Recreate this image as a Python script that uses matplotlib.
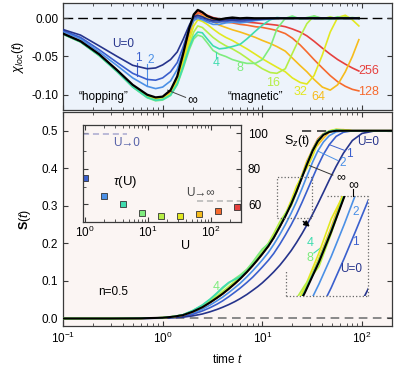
import matplotlib
matplotlib.use('Agg')
import matplotlib.pyplot as plt
from matplotlib.ticker import NullLocator, FixedLocator

plt.rcParams['font.family'] = ['Liberation Sans', 'DejaVu Sans']
plt.rcParams['mathtext.fontset'] = 'custom'
plt.rcParams['mathtext.rm'] = 'Liberation Sans'
plt.rcParams['mathtext.it'] = 'Liberation Sans:italic'
plt.rcParams['mathtext.bf'] = 'Liberation Sans:bold'
plt.rcParams['axes.unicode_minus'] = False
plt.rcParams['font.size'] = 8.5

# ---- top panel: local susceptibility chi_loc(t) ----
t_top = [0.1, 0.15, 0.23, 0.35, 0.5, 0.7, 0.85, 1.0, 1.2, 1.4, 1.6, 1.85, 2.05, 2.25,
         2.5, 2.8, 3.2, 3.7, 4.3, 5.0, 6.0, 7.0, 8.5, 10, 12, 14, 17, 20, 24, 28, 33,
         40, 48, 57, 68, 80, 93]

chi_inf = [-0.020, -0.030, -0.047, -0.068, -0.087, -0.100, -0.1035, -0.1025, -0.094, -0.076,
           -0.047, -0.013, 0.005, 0.011, 0.008, 0.003, 0.000, -0.0015, 0.000, 0.001, 0.000,
           0.0005, 0.0, 0.0, 0.0, 0.0, 0.0, 0.0, 0.0, 0.0, 0.0, 0.0, 0.0, 0.0, 0.0, 0.0, 0.0]
chi_U0 = [-0.0147, -0.022, -0.036, -0.050, -0.0615, -0.066, -0.065, -0.061, -0.054, -0.044,
          -0.028, -0.009, 0.002, 0.004, 0.002, -0.001, -0.003, -0.003, -0.002, -0.002, -0.002,
          -0.0015, -0.001, -0.0005, 0.0, 0.0, 0.0, 0.0, 0.0, 0.0, 0.0, 0.0, 0.0, 0.0, 0.0, 0.0, 0.0]
chi_U1 = [-0.016, -0.025, -0.041, -0.058, -0.072, -0.080, -0.081, -0.078, -0.070, -0.058,
          -0.038, -0.012, 0.000, 0.002, 0.000, -0.003, -0.005, -0.005, -0.004, -0.003, -0.004,
          -0.003, -0.002, -0.001, -0.0005, 0.0, 0.0, 0.0, 0.0, 0.0, 0.0, 0.0, 0.0, 0.0, 0.0, 0.0, 0.0]
chi_U2 = [-0.0175, -0.027, -0.044, -0.062, -0.078, -0.089, -0.092, -0.090, -0.082, -0.067,
          -0.044, -0.015, -0.003, 0.000, -0.002, -0.005, -0.008, -0.008, -0.006, -0.005, -0.006,
          -0.005, -0.003, -0.002, -0.001, 0.0, 0.0, 0.0, 0.0, 0.0, 0.0, 0.0, 0.0, 0.0, 0.0, 0.0, 0.0]
chi_U4 = [-0.0207, -0.031, -0.0485, -0.070, -0.0898, -0.1035, -0.1073, -0.1063, -0.1005, -0.086,
          -0.064, -0.038, -0.024, -0.018, -0.019, -0.027, -0.036, -0.040, -0.039, -0.037, -0.034,
          -0.027, -0.017, -0.009, -0.002, 0.001, 0.000, 0.001, 0.0, 0.0, 0.0, 0.0, 0.0, 0.0, 0.0, 0.0, 0.0]
chi_U8 = [-0.021, -0.031, -0.049, -0.070, -0.090, -0.104, -0.108, -0.107, -0.101, -0.087,
          -0.066, -0.041, -0.027, -0.022, -0.024, -0.032, -0.042, -0.047, -0.050, -0.054, -0.057,
          -0.059, -0.059, -0.054, -0.038, -0.014, 0.000, 0.003, -0.001, 0.001, 0.003, 0.000,
          -0.001, 0.002, 0.000, 0.001, 0.000]
chi_U16 = [-0.0205, -0.031, -0.0483, -0.0695, -0.0895, -0.103, -0.1065, -0.1055, -0.100, -0.085,
           -0.062, -0.035, -0.018, -0.010, -0.012, -0.018, -0.025, -0.031, -0.036, -0.040, -0.046,
           -0.052, -0.060, -0.066, -0.071, -0.072, -0.066, -0.046, -0.024, -0.007, 0.003, -0.001,
           0.002, -0.001, 0.002, 0.000, 0.001]
chi_U32 = [-0.0204, -0.0306, -0.048, -0.069, -0.089, -0.1025, -0.106, -0.105, -0.099, -0.083,
           -0.058, -0.029, -0.010, -0.002, -0.004, -0.008, -0.014, -0.020, -0.025, -0.029, -0.035,
           -0.040, -0.047, -0.053, -0.059, -0.064, -0.070, -0.078, -0.084, -0.086, -0.075, -0.048,
           -0.018, 0.001, 0.004, -0.002, -0.010]
chi_U64 = [-0.0203, -0.0304, -0.0476, -0.0686, -0.0886, -0.102, -0.1055, -0.1045, -0.098, -0.081,
           -0.055, -0.023, -0.003, 0.004, 0.003, 0.000, -0.004, -0.009, -0.012, -0.015, -0.018,
           -0.021, -0.025, -0.029, -0.033, -0.037, -0.043, -0.052, -0.062, -0.070, -0.080, -0.090,
           -0.094, -0.087, -0.070, -0.050, -0.028]
chi_U128 = [-0.0202, -0.0302, -0.0473, -0.0683, -0.0883, -0.1015, -0.105, -0.104, -0.097, -0.080,
            -0.052, -0.019, 0.000, 0.007, 0.005, 0.002, -0.001, -0.003, -0.005, -0.006, -0.008,
            -0.009, -0.011, -0.012, -0.014, -0.016, -0.020, -0.026, -0.035, -0.044, -0.054, -0.065,
            -0.075, -0.083, -0.089, -0.093, -0.095]
chi_U256 = [-0.0200, -0.030, -0.047, -0.068, -0.088, -0.101, -0.1045, -0.1035, -0.096, -0.078,
            -0.050, -0.016, 0.003, 0.009, 0.007, 0.004, 0.001, -0.001, -0.002, -0.003, -0.004,
            -0.005, -0.006, -0.007, -0.008, -0.009, -0.011, -0.014, -0.018, -0.023, -0.030, -0.039,
            -0.047, -0.054, -0.060, -0.065, -0.069]

# ---- bottom panel: S(t) ----
t_bot = [0.1, 0.3, 0.6, 1.0, 1.3, 1.6, 2.0, 2.5, 3.0, 3.5, 4.0, 4.6, 5.3, 6.0, 7.0, 8.0, 9.0,
         10, 11.5, 13, 15, 17, 19.5, 22, 25, 28, 32, 36, 41, 47, 55, 65, 80, 100, 130, 200]

S_inf = [0, 0, 0.0005, 0.002, 0.005, 0.009, 0.018, 0.030, 0.043, 0.055, 0.066, 0.079, 0.093,
         0.106, 0.124, 0.141, 0.157, 0.172, 0.193, 0.215, 0.245, 0.272, 0.305, 0.338, 0.376,
         0.410, 0.447, 0.472, 0.489, 0.497, 0.500, 0.500, 0.500, 0.500, 0.500, 0.500]
S_U0 = [0, 0, 0.0002, 0.0008, 0.002, 0.0035, 0.007, 0.012, 0.018, 0.024, 0.030, 0.037, 0.045,
        0.053, 0.064, 0.075, 0.085, 0.095, 0.110, 0.124, 0.142, 0.160, 0.181, 0.202, 0.226,
        0.249, 0.278, 0.305, 0.336, 0.369, 0.405, 0.440, 0.474, 0.493, 0.499, 0.500]
S_U1 = [0, 0, 0.0003, 0.0013, 0.003, 0.006, 0.011, 0.020, 0.029, 0.038, 0.047, 0.058, 0.070,
        0.081, 0.096, 0.110, 0.124, 0.137, 0.155, 0.173, 0.198, 0.222, 0.250, 0.277, 0.309,
        0.339, 0.375, 0.406, 0.437, 0.463, 0.485, 0.496, 0.500, 0.500, 0.500, 0.500]
S_U2 = [0, 0, 0.0004, 0.0016, 0.004, 0.007, 0.014, 0.025, 0.036, 0.047, 0.057, 0.069, 0.082,
        0.094, 0.111, 0.127, 0.142, 0.156, 0.176, 0.197, 0.224, 0.250, 0.281, 0.311, 0.346,
        0.379, 0.417, 0.446, 0.470, 0.487, 0.497, 0.500, 0.500, 0.500, 0.500, 0.500]
S_U4 = [0, 0, 0.0005, 0.0022, 0.0055, 0.010, 0.021, 0.036, 0.052, 0.068, 0.083, 0.096, 0.104,
        0.111, 0.125, 0.142, 0.158, 0.173, 0.194, 0.216, 0.246, 0.273, 0.306, 0.339, 0.377,
        0.411, 0.448, 0.473, 0.490, 0.498, 0.501, 0.500, 0.500, 0.500, 0.500, 0.500]
S_U8 = [0, 0, 0.0005, 0.0022, 0.0055, 0.010, 0.021, 0.035, 0.051, 0.066, 0.080, 0.094, 0.106,
        0.116, 0.131, 0.150, 0.169, 0.185, 0.199, 0.214, 0.247, 0.274, 0.307, 0.340, 0.378,
        0.412, 0.449, 0.474, 0.491, 0.499, 0.502, 0.500, 0.500, 0.500, 0.500, 0.500]
S_U16 = [0, 0, 0.0005, 0.0021, 0.0053, 0.0095, 0.020, 0.033, 0.047, 0.060, 0.072, 0.085, 0.099,
         0.112, 0.130, 0.147, 0.163, 0.179, 0.201, 0.226, 0.258, 0.280, 0.300, 0.336, 0.378,
         0.413, 0.450, 0.475, 0.491, 0.499, 0.503, 0.501, 0.500, 0.500, 0.500, 0.500]
S_U32 = [0, 0, 0.0005, 0.0021, 0.0052, 0.0093, 0.019, 0.031, 0.045, 0.057, 0.068, 0.081, 0.095,
         0.108, 0.126, 0.143, 0.159, 0.175, 0.196, 0.219, 0.249, 0.278, 0.315, 0.352, 0.380,
         0.400, 0.433, 0.468, 0.490, 0.500, 0.504, 0.502, 0.500, 0.500, 0.500, 0.500]
S_U64 = [0, 0, 0.0005, 0.002, 0.005, 0.009, 0.018, 0.030, 0.044, 0.056, 0.067, 0.080, 0.094,
         0.107, 0.125, 0.142, 0.158, 0.173, 0.194, 0.217, 0.247, 0.275, 0.309, 0.343, 0.383,
         0.420, 0.449, 0.462, 0.480, 0.496, 0.503, 0.503, 0.500, 0.500, 0.500, 0.500]
S_U128 = [0, 0, 0.0005, 0.002, 0.005, 0.009, 0.018, 0.030, 0.043, 0.055, 0.066, 0.079, 0.093,
          0.106, 0.124, 0.141, 0.157, 0.172, 0.193, 0.216, 0.246, 0.274, 0.307, 0.341, 0.379,
          0.414, 0.452, 0.478, 0.492, 0.498, 0.502, 0.501, 0.500, 0.500, 0.500, 0.500]
S_U256 = [0, 0, 0.0005, 0.002, 0.005, 0.009, 0.018, 0.030, 0.043, 0.055, 0.066, 0.079, 0.093,
          0.106, 0.124, 0.141, 0.157, 0.172, 0.193, 0.215, 0.245, 0.273, 0.306, 0.339, 0.377,
          0.412, 0.449, 0.475, 0.491, 0.499, 0.501, 0.500, 0.500, 0.500, 0.500, 0.500]

# ---- inset: relaxation time tau(U) ----
U_tau = [1, 2, 4, 8, 16, 32, 64, 128, 256]
tau = [74.8, 64.9, 60.1, 55.1, 53.6, 53.8, 54.6, 56.4, 58.8]
tau_U0 = 99.4
tau_Uinf = 62.1

colors = {'0': '#26348c', '1': '#3a5fcd', '2': '#4b90e6', '4': '#3fdcaf',
          '8': '#7eec7e', '16': '#b6ee46', '32': '#e2e820', '64': '#f6bc1c',
          '128': '#f66a2e', '256': '#e6403e'}
tau_colors = [colors[k] for k in ['1', '2', '4', '8', '16', '32', '64', '128', '256']]

chi_col = {'4': chi_U4, '8': chi_U8, '16': chi_U16, '32': chi_U32,
           '64': chi_U64, '128': chi_U128, '256': chi_U256}
chi_blue = {'2': chi_U2, '1': chi_U1, '0': chi_U0}
S_col = {'4': S_U4, '8': S_U8, '16': S_U16, '32': S_U32,
         '64': S_U64, '128': S_U128, '256': S_U256}
S_blue = {'2': S_U2, '1': S_U1, '0': S_U0}

bg_top = '#edf3fb'
bg_bot = '#fbf5f3'
spine_c = '#3a3a3a'

W, H = 395, 366
fig = plt.figure(figsize=(W / 100, H / 100), dpi=100)


def rect(x0, y0, x1, y1):
    return [x0 / W, 1 - y1 / H, (x1 - x0) / W, (y1 - y0) / H]


def style(ax):
    for s in ax.spines.values():
        s.set_color(spine_c)
        s.set_linewidth(0.9)
    ax.tick_params(which='both', direction='in', top=True, right=True, color=spine_c)
    ax.tick_params(which='major', length=3.5, width=0.8)
    ax.tick_params(which='minor', length=2, width=0.6)


# ---------------- top panel ----------------
ax1 = fig.add_axes(rect(63, 3, 392, 110), facecolor=bg_top)
ax1.set_xscale('log')
ax1.axhline(0, color='k', lw=1.0, ls=(0, (7, 3.6)), zorder=1)
for k in ['256', '128', '64', '32', '16', '8', '4']:
    ax1.plot(t_top, chi_col[k], color=colors[k], lw=1.2, zorder=2)
for k in ['2', '1', '0']:
    ax1.plot(t_top, chi_blue[k], color=colors[k], lw=1.2, zorder=3)
ax1.plot(t_top, chi_inf, color='k', lw=1.6, zorder=4)
ax1.set_xlim(0.1, 200)
ax1.set_ylim(-0.12, 0.02)
ax1.set_yticks([0.0, -0.05, -0.10])
ax1.set_yticklabels(['0.00', '-0.05', '-0.10'])
style(ax1)
ax1.tick_params(labelbottom=False)
ax1.set_ylabel(r'$\chi_{loc}(t)$', fontsize=9, labelpad=4)

ax1.text(0.40, -0.0334, 'U=0', color=colors['0'], ha='center', va='center', fontsize=8.5)
ax1.text(0.575, -0.052, '1', color=colors['1'], ha='center', va='center', fontsize=8.5)
ax1.plot([0.55, 0.55], [-0.058, -0.076], color=colors['1'], lw=0.8)
ax1.text(0.75, -0.054, '2', color=colors['2'], ha='center', va='center', fontsize=8.5)
ax1.plot([0.69, 0.69], [-0.060, -0.089], color=colors['2'], lw=0.8)
ax1.text(1.98, -0.1065, '\u221e', color='k', ha='center', va='center', fontsize=10)
ax1.plot([1.12, 1.70], [-0.094, -0.1035], color='#444444', lw=0.7)
ax1.text(3.42, -0.059, '4', color=colors['4'], ha='center', va='center', fontsize=9)
ax1.plot([3.42, 3.42], [-0.044, -0.052], color=colors['4'], lw=0.8)
ax1.text(5.9, -0.0654, '8', color=colors['8'], ha='center', va='center', fontsize=9)
ax1.text(12.9, -0.085, '16', color=colors['16'], ha='center', va='center', fontsize=9)
ax1.text(24.3, -0.097, '32', color=colors['32'], ha='center', va='center', fontsize=9)
ax1.text(36.3, -0.1035, '64', color=colors['64'], ha='center', va='center', fontsize=9)
ax1.text(117, -0.097, '128', color=colors['128'], ha='center', va='center', fontsize=9)
ax1.text(117, -0.0695, '256', color=colors['256'], ha='center', va='center', fontsize=9)
ax1.text(0.257, -0.1036, '\u201chopping\u201d', ha='center', va='center', fontsize=8.5)
ax1.text(8.5, -0.1036, '\u201cmagnetic\u201d', ha='center', va='center', fontsize=8.5)

# ---------------- bottom panel ----------------
ax2 = fig.add_axes(rect(63, 112, 392, 326), facecolor=bg_bot)
ax2.set_xscale('log')
ax2.axhline(0, color='#808080', lw=1.3, ls=(0, (4.8, 3)), zorder=1)
ax2.plot([25, 200], [0.5, 0.5], color='#333333', lw=1.2, ls=(0, (5.5, 3.5)), zorder=1)


def draw_S(ax, lw_scale=1.0):
    for k in ['2', '1', '0']:
        ax.plot(t_bot, S_blue[k], color=colors[k], lw=1.2 * lw_scale, zorder=2)
    for k in ['256', '128', '64', '32', '16', '8', '4']:
        ax.plot(t_bot, S_col[k], color=colors[k], lw=1.2 * lw_scale, zorder=3)
    ax.plot(t_bot, S_inf, color='k', lw=1.5 * lw_scale, zorder=4)


draw_S(ax2)
ax2.set_xlim(0.1, 200)
ax2.set_ylim(-0.02, 0.55)
ax2.set_yticks([0.0, 0.1, 0.2, 0.3, 0.4, 0.5])
ax2.yaxis.set_minor_locator(NullLocator())
style(ax2)
ax2.set_xlabel('time $t$', fontsize=8.5, labelpad=5)
ax2.set_ylabel(r'$\mathbf{S}(t)$', fontsize=9, labelpad=6)

ax2.text(0.32, 0.0716, 'n=0.5', ha='center', va='center', fontsize=8.5)
ax2.text(3.44, 0.085, '4', color=colors['8'], ha='center', va='center', fontsize=9)
ax2.text(22.4, 0.472, 'S$_{z}$(t)', ha='center', va='center', fontsize=9)
ax2.text(116, 0.4695, 'U=0', color=colors['0'], ha='center', va='center', fontsize=8.5)
ax2.text(74, 0.437, '1', color=colors['1'], ha='center', va='center', fontsize=8.5)
ax2.plot([47, 68], [0.463, 0.447], color=colors['1'], lw=0.7)
ax2.text(64, 0.413, '2', color=colors['2'], ha='center', va='center', fontsize=8.5)
ax2.plot([36, 57], [0.446, 0.421], color=colors['2'], lw=0.7)
ax2.text(61, 0.376, '\u221e', color='k', ha='center', va='center', fontsize=9)
ax2.plot([28, 51], [0.410, 0.382], color='#333333', lw=0.7)

# dotted box marking the magnified region + arrow
bx0, bx1, by0, by1 = 14.1, 31.6, 0.268, 0.377
ax2.plot([bx0, bx1, bx1, bx0, bx0], [by0, by0, by1, by1, by0], ls=':', color='#666666',
         lw=0.9, zorder=5)
ax2.annotate('', xy=(31.5, 0.240), xytext=(24.5, 0.263),
             arrowprops=dict(arrowstyle='-|>', color='k', lw=1.1, mutation_scale=8), zorder=6)

# ---------------- magnified inset ----------------
axz = fig.add_axes(rect(286, 196, 368, 296), facecolor='none')
axz.set_xscale('log')
draw_S(axz)
for s in axz.spines.values():
    s.set_visible(False)
axz.xaxis.set_major_locator(NullLocator())
axz.xaxis.set_minor_locator(NullLocator())
axz.yaxis.set_major_locator(NullLocator())
axz.yaxis.set_minor_locator(NullLocator())
dot = dict(transform=axz.transAxes, ls=':', color='#666666', lw=0.9, clip_on=False)
axz.plot([0, 1], [0, 0], **dot)
axz.plot([1, 1], [0, 1], **dot)
axz.plot([0.5, 1], [1, 1], **dot)
axz.plot([0, 0], [0, 0.26], **dot)
axz.set_xlim(bx0, bx1)
axz.set_ylim(by0, by1)
axz.text(0.80, 0.27, 'U=0', color=colors['0'], transform=axz.transAxes,
         ha='center', va='center', fontsize=8.5)
axz.text(0.84, 0.54, '1', color=colors['1'], transform=axz.transAxes,
         ha='center', va='center', fontsize=8.5)
axz.text(0.85, 0.84, '2', color=colors['2'], transform=axz.transAxes,
         ha='center', va='center', fontsize=8.5)
axz.text(0.82, 1.11, '\u221e', color='k', transform=axz.transAxes,
         ha='center', va='center', fontsize=10)
axz.plot([0.815, 0.815], [1.0, 1.07], transform=axz.transAxes, color='k', lw=0.8,
         clip_on=False)
axz.text(0.29, 0.53, '4', color=colors['4'], transform=axz.transAxes,
         ha='center', va='center', fontsize=9)
axz.text(0.29, 0.38, '8', color=colors['8'], transform=axz.transAxes,
         ha='center', va='center', fontsize=9)
axz.plot([0.34, 0.42], [0.43, 0.48], transform=axz.transAxes, color=colors['4'], lw=0.8)

# ---------------- tau(U) inset ----------------
axi = fig.add_axes(rect(83, 125, 241, 222), facecolor=bg_bot)
axi.set_xscale('log')
axi.plot([0.93, 4.6], [tau_U0, tau_U0], ls=(0, (4, 2.5)), color='#a9a9cf', lw=1.1)
axi.plot([60, 300], [tau_Uinf, tau_Uinf], ls=(0, (4, 2.5)), color='#b4b4b4', lw=1.1)
for u, tv, c in zip(U_tau, tau, tau_colors):
    axi.plot(u, tv, 's', color=c, ms=4, mec='#333333', mew=0.6)
axi.set_xlim(0.93, 300)
axi.set_ylim(50.2, 104.5)
axi.yaxis.set_major_locator(FixedLocator([60, 80, 100]))
axi.yaxis.set_minor_locator(FixedLocator([70, 90]))
style(axi)
axi.tick_params(axis='y', labelleft=False, labelright=True, pad=5)
axi.tick_params(axis='x', pad=2)
axi.set_xlabel('U', fontsize=9)
axi.xaxis.set_label_coords(0.646, -0.19)
axi.text(4.3, 72.6, r'$\tau$(U)', ha='center', va='center', fontsize=9.5)
axi.text(4.5, 94.4, 'U\u21920', color='#5661a8', ha='center', va='center', fontsize=8.5)
axi.text(67, 66.4, 'U\u2192\u221e', color='#444444', ha='center', va='center', fontsize=8.5)

fig.savefig('out.png', dpi=100)
